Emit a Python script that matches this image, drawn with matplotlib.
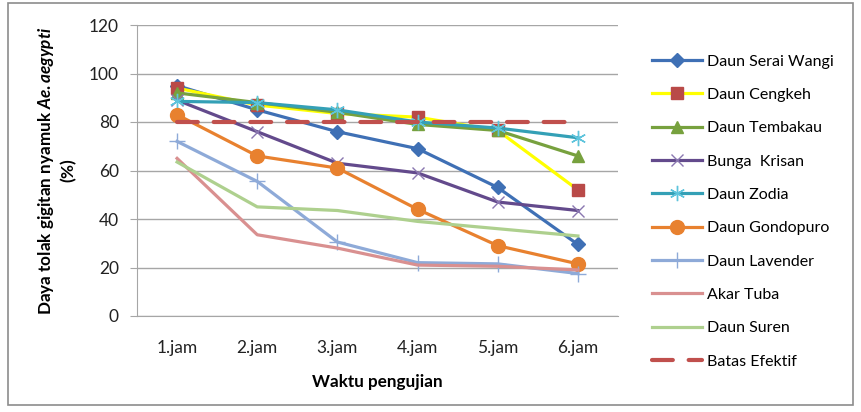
import numpy as np
import matplotlib
matplotlib.use("Agg")
import matplotlib.pyplot as plt
from matplotlib.patches import Rectangle

plt.rcParams['font.family'] = ['Lato', 'DejaVu Sans']
plt.rcParams['mathtext.fontset'] = 'custom'
plt.rcParams['mathtext.it'] = 'Lato:italic:bold'
plt.rcParams['mathtext.rm'] = 'Lato:bold'

hours = ["1.jam", "2.jam", "3.jam", "4.jam", "5.jam", "6.jam"]

serai_wangi = [95, 85, 76, 69, 53, 29.5]
cengkeh = [94, 87, 83.5, 82, 76.5, 52]
tembakau = [92, 88, 84, 79, 76.5, 66]
krisan = [89, 76, 63, 59, 47, 43.5]
zodia = [88.5, 88, 85, 80, 77.5, 73.5]
gondopuro = [83, 66, 61, 44, 29, 21.5]
lavender = [72, 55.5, 30.5, 22, 21.5, 17.5]
akar_tuba = [65, 33.5, 28, 21, 20.5, 19]
suren = [63.5, 45, 43.5, 39, 36, 33]
batas_efektif = [80, 80, 80, 80, 80, 80]

fig = plt.figure(figsize=(8.62, 4.12), dpi=100)
fig.patches.append(Rectangle((8/862, 1-405/412), 845/862, 402/412, transform=fig.transFigure,
                             fill=False, edgecolor='#8c8c8c', lw=1.2))
ax = fig.add_axes([137/862, 1-316/412, 481/862, 291/412])

x = np.arange(len(hours))
lw = 2.3
ax.plot(x, serai_wangi, color='#3f70b5', lw=lw, marker='D', ms=7, label='Daun Serai Wangi')
ax.plot(x, cengkeh, color='#ffff00', lw=lw, marker='s', ms=9, mfc='#b94a48', mec='#b94a48', label='Daun Cengkeh')
ax.plot(x, tembakau, color='#77a13e', lw=lw, marker='^', ms=9, label='Daun Tembakau')
ax.plot(x, krisan, color='#634a8c', lw=lw, marker='x', ms=9, mew=1, mec='#8a77b0', label='Bunga  Krisan')
ax.plot(x, zodia, color='#34a0b6', lw=lw, marker=(6, 2, 0), ms=11, mew=1, mec='#5ec4dc', label='Daun Zodia')
ax.plot(x, gondopuro, color='#e8812f', lw=lw, marker='o', ms=10, label='Daun Gondopuro')
ax.plot(x, lavender, color='#8eaad8', lw=lw, marker='+', ms=12, mew=1, label='Daun Lavender')
ax.plot(x, akar_tuba, color='#d99090', lw=lw, label='Akar Tuba')
ax.plot(x, suren, color='#aed08e', lw=lw, label='Daun Suren')
ax.plot(x, batas_efektif, color='#c0504d', lw=3, dashes=(5, 3.8), dash_capstyle='round', label='Batas Efektif')

ax.set_xlim(-0.5, 5.5)
ax.set_ylim(0, 120)
ax.set_yticks(range(0, 121, 20))
ax.set_xticks(x)
ax.set_xticklabels(hours)
ax.yaxis.grid(True, color='#a6a6a6', lw=1)
ax.set_axisbelow(True)
for s in ['top', 'right']:
    ax.spines[s].set_visible(False)
for s in ['left', 'bottom']:
    ax.spines[s].set_color('#a6a6a6')
ax.tick_params(axis='x', length=0, pad=17, labelsize=12.5, colors='#222222')
ax.tick_params(axis='y', length=5, color='#a6a6a6', labelsize=12.5, colors='#222222', pad=8)

ax.set_xlabel('Waktu pengujian', fontsize=12.3, fontweight='bold', labelpad=13)
ax.set_ylabel('Daya tolak gigitan nyamuk $\\mathit{Ae.aegypti}$\n$\\mathit{(\\%)}$',
              fontsize=12.3, fontweight='bold', labelpad=7, linespacing=1.15)

fig.legend(loc='upper left', bbox_to_anchor=(638/862, 1-40/412), frameon=False,
           fontsize=11.5, labelspacing=1.2, handlelength=3.1, handletextpad=0.3)

fig.savefig('out.png', dpi=100)
